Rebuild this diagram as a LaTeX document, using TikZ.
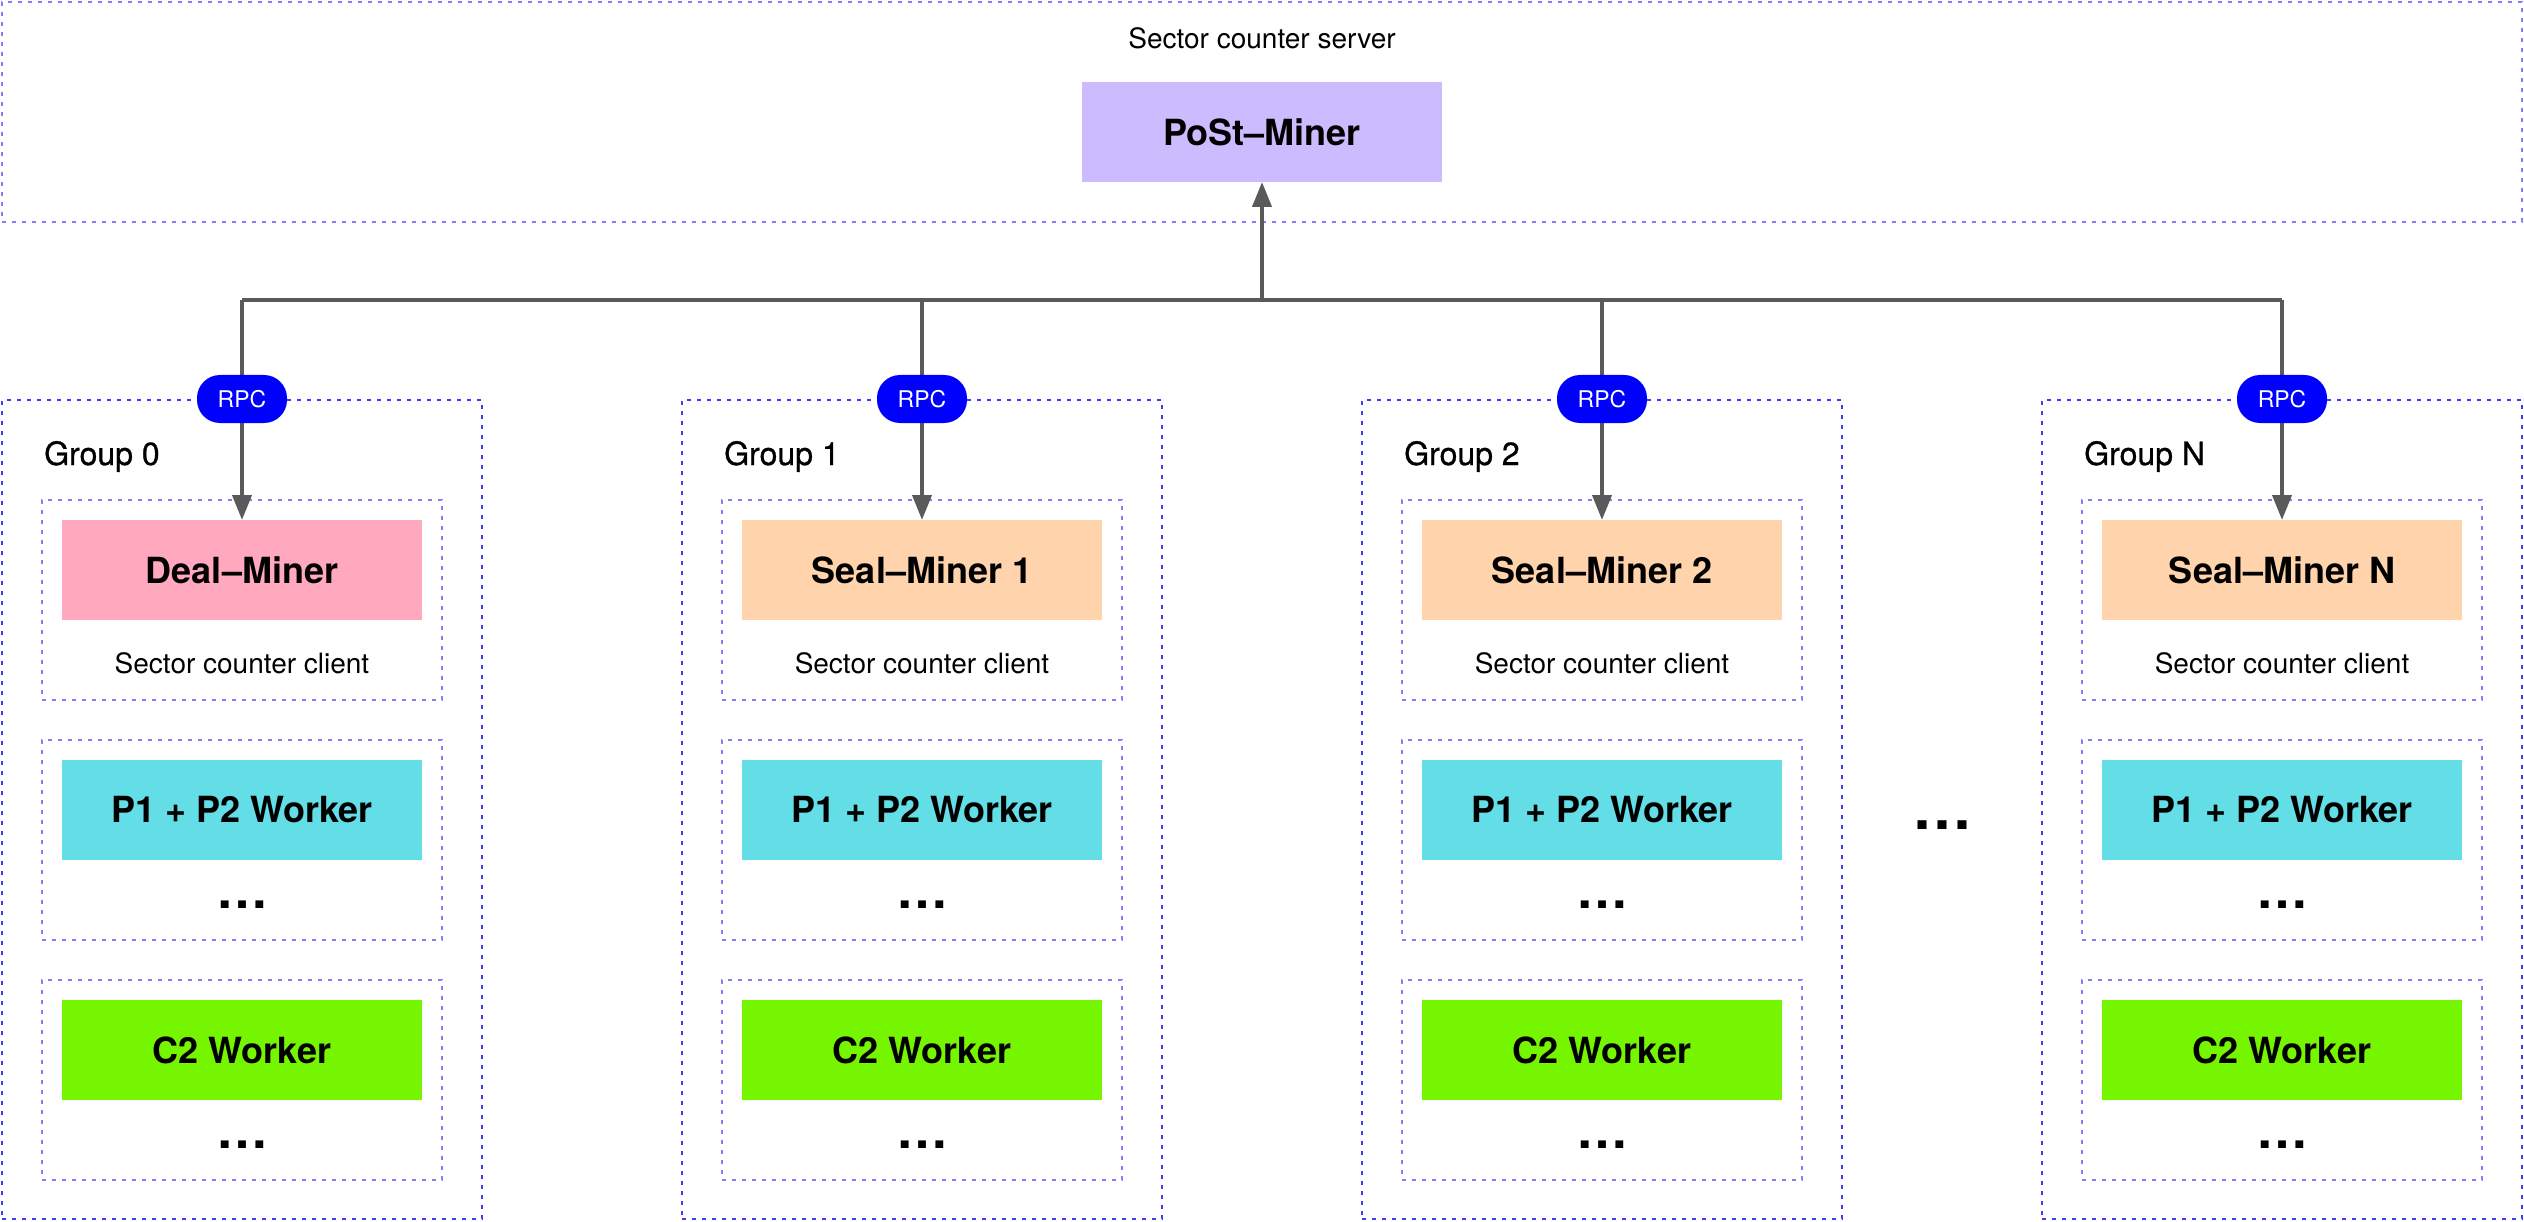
\documentclass[tikz,border=0pt]{standalone}
\usepackage{fontspec}
\setmainfont{TeX Gyre Heros}
\newfontfamily\grpfont{TeX Gyre Heros}[FakeBold=0.8]
\usetikzlibrary{arrows.meta}
\definecolor{dotc}{HTML}{8080FF}
\definecolor{dotg}{HTML}{3C3CFF}
\definecolor{postc}{HTML}{CCBBFF}
\definecolor{dealc}{HTML}{FFA8BE}
\definecolor{sealc}{HTML}{FFD4AD}
\definecolor{p12c}{HTML}{63DDE6}
\definecolor{c2c}{HTML}{76F500}
\definecolor{arrc}{HTML}{5A5A5A}
\definecolor{rpcc}{HTML}{0000FF}
\begin{document}
\begin{tikzpicture}[x=1pt,y=-1pt,
  dotbox/.style={draw=dotc, line width=2pt, dash pattern=on 4pt off 6pt, inner sep=0, outer sep=0, anchor=north west},
  grpbox/.style={dotbox, draw=dotg},
  inbox/.style={dotbox, minimum width=400pt, minimum height=200pt},
  colbox/.style={rectangle, minimum width=360pt, minimum height=100pt, inner sep=0, outer sep=0, anchor=north west, font=\fontsize{36}{40}\selectfont\bfseries},
  small/.style={inner sep=0, font=\fontsize{28}{34}\selectfont},
  grplabel/.style={inner sep=0, anchor=base west, font=\fontsize{32}{38}\selectfont\grpfont},
  dots/.style={inner sep=0, anchor=base, font=\fontsize{52}{56}\selectfont\bfseries},
  rpc/.style={rectangle, rounded corners=23pt, fill=rpcc, minimum width=90pt, minimum height=48pt, inner sep=0, text=white, font=\fontsize{23}{26}\selectfont},
  bus/.style={draw=arrc, line width=4pt},
  arr/.style={draw=arrc, line width=4pt, -{Triangle[width=19pt,length=25pt]}}
]
\useasboundingbox (0,0) rectangle (2524,1222);
% server area
\node[dotbox, minimum width=2520pt, minimum height=220pt] (srv) at (2,2) {};
\node[small] (srvl) at (1262,38) {Sector counter server};
\node[colbox, fill=postc] (post) at (1082,82) {PoSt–Miner};
% groups
\foreach \i/\gl/\mt/\mc in {0/0/{Deal–Miner}/dealc,1/1/{Seal–Miner 1}/sealc,2/2/{Seal–Miner 2}/sealc,3/N/{Seal–Miner N}/sealc}{
  \pgfmathsetmacro\L{2+680*\i}
  \node[grpbox, minimum width=480pt, minimum height=819pt] (g\i) at (\L,400) {};
  \node[grplabel] (gl\i) at (\L+42,465) {Group \gl};
  \node[inbox] (ia\i) at (\L+40,500) {};
  \node[inbox] (ib\i) at (\L+40,740) {};
  \node[inbox] (ic\i) at (\L+40,980) {};
  \node[colbox, fill=\mc] (m\i) at (\L+60,520) {\mt};
  \node[small] (sc\i) at (\L+240,663) {Sector counter client};
  \node[colbox, fill=p12c] (p\i) at (\L+60,760) {P1 + P2 Worker};
  \node[dots] (pd\i) at (\L+240,908) {…};
  \node[colbox, fill=c2c] (c\i) at (\L+60,1000) {C2 Worker};
  \node[dots] (cd\i) at (\L+240,1148) {…};
  \coordinate (b\i) at (\L+240,300);
}
\node[dots, font=\fontsize{60}{64}\selectfont\bfseries] (mid) at (1942,829) {…};
% connectors
\coordinate (bc) at (1262,300);
\draw[bus] (b0) -- (b3);
\draw[arr] (bc) -- (post.south);
\foreach \i in {0,...,3}{
  \draw[arr] (b\i) -- (m\i.north);
  \node[rpc] (r\i) at (242+680*\i,399) {RPC};
}
\end{tikzpicture}
\end{document}
